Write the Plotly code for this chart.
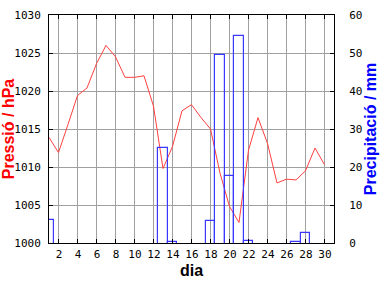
import plotly.graph_objects as go

days = list(range(1, 31))
pressure_hpa = [1013.9, 1011.9, 1015.6, 1019.4, 1020.4, 1023.6, 1026.0, 1024.5, 1021.8, 1021.8,
                1022.0, 1018.0, 1009.8, 1012.7, 1017.4, 1018.2, 1016.5, 1015.0, 1009.2, 1004.8,
                1002.7, 1012.2, 1016.5, 1013.1, 1007.9, 1008.4, 1008.3, 1009.5, 1012.5, 1010.3]
precip_mm = [6.0, 0, 0, 0, 0, 0, 0, 0, 0, 0,
             0, 0, 25.0, 0.3, 0, 0, 0, 5.9, 49.5, 17.7,
             54.6, 0.6, 0, 0, 0, 0, 0.3, 2.6, 0, 0]
x_ticks = list(range(2, 31, 2))

offset = -0.05
base_mm = -0.6  # puts the open bottom of each box just under the axis line
xs = [d + offset for d in days]
bar_x = [x for x, p in zip(xs, precip_mm) if p > 0]
bar_y = [p - base_mm for p in precip_mm if p > 0]

RED = "#ff4040"
BLUE = "#3838ff"
GRID = "#a0a0a0"
tickfont = dict(family="DejaVu Sans Mono", size=11, color="black")
titlefont = dict(family="Liberation Sans", size=16, weight="bold")

fig = go.Figure()
fig.add_trace(go.Bar(x=bar_x, y=bar_y, base=base_mm, width=1.0, yaxis="y2",
                     marker=dict(color="rgba(255,255,255,0)", line=dict(color=BLUE, width=1.2)),
                     showlegend=False))
fig.add_trace(go.Scatter(x=xs, y=pressure_hpa, mode="lines",
                         line=dict(color=RED, width=1), showlegend=False))

common = dict(ticks="inside", ticklen=4, tickcolor="black", showline=True, linecolor="black",
              linewidth=1, tickfont=tickfont, zeroline=False, automargin=False,
              layer="above traces")

fig.update_layout(
    width=384, height=288,
    margin=dict(l=49, r=50, t=15, b=45),
    paper_bgcolor="white", plot_bgcolor="white",
    bargap=0,
    xaxis=dict(range=[0.95, 30.95], tickvals=x_ticks, showgrid=True, gridcolor=GRID, gridwidth=1,
               mirror="ticks", ticklabelstandoff=1,
               title=dict(text="dia", font=dict(titlefont, color="black"), standoff=4),
               **common),
    yaxis=dict(range=[1000, 1030], dtick=5, showgrid=True, gridcolor=GRID, gridwidth=1,
               ticklabelstandoff=5,
               title=dict(text="Pressió / hPa", font=dict(titlefont, color="red"), standoff=1),
               **common),
    yaxis2=dict(range=[0, 60], dtick=10, overlaying="y", side="right", showgrid=False,
                ticklabelstandoff=12,
                title=dict(text="Precipitació / mm", font=dict(titlefont, color="blue"), standoff=1),
                **common),
)

fig.write_html("out.html")
